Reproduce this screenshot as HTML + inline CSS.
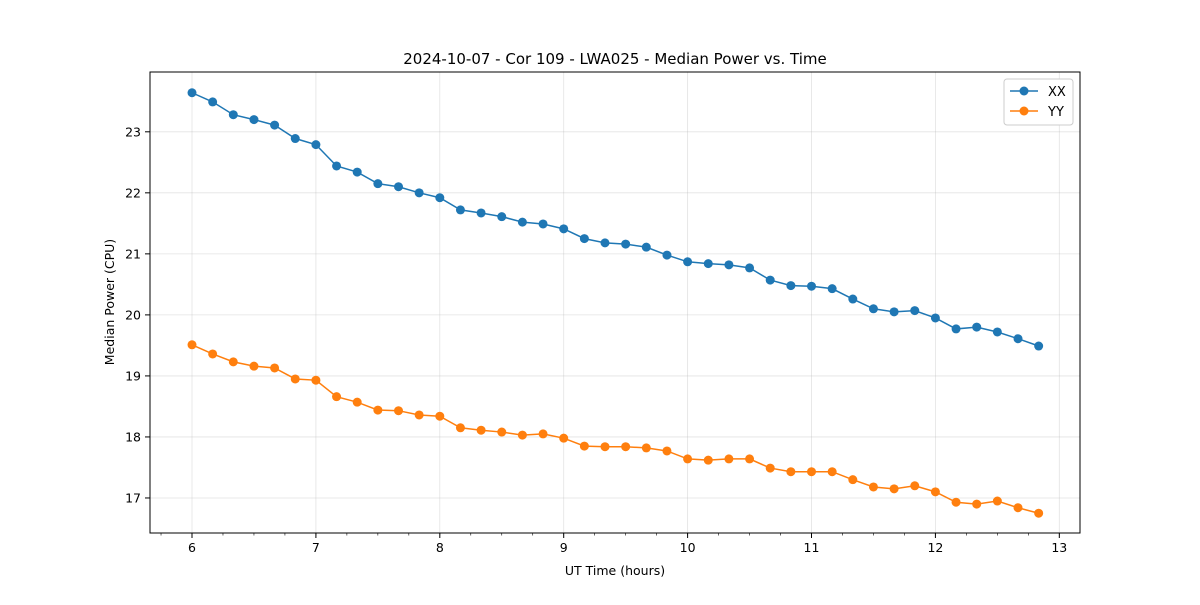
<!DOCTYPE html>
<html><head><meta charset="utf-8"><style>
body{margin:0;background:#fff;font-family:"Liberation Sans","DejaVu Sans",sans-serif;}
</style></head><body>
<svg id="chart" width="1200" height="600" font-family="DejaVu Sans, Liberation Sans, sans-serif">
<rect width="1200" height="600" fill="#fff"/>
<text x="615" y="64" text-anchor="middle" font-size="15">2024-10-07 - Cor 109 - LWA025 - Median Power vs. Time</text>
<g id="grid"></g><g id="axes"></g><g id="series"></g>
<text x="615" y="575" text-anchor="middle" font-size="12.5">UT Time (hours)</text>
<text transform="translate(114,302) rotate(-90)" text-anchor="middle" font-size="12.5">Median Power (CPU)</text>
<g>
<rect x="1004" y="79" width="69" height="46" fill="#fff" stroke="#ccc" rx="3"/>
<g><line x1="1010" y1="91" x2="1038" y2="91" stroke="#1f77b4" stroke-width="1.5"/><circle cx="1024" cy="91" r="4.5" fill="#1f77b4"/><text x="1048" y="96" font-size="13">XX</text></g>
<g><line x1="1010" y1="111" x2="1038" y2="111" stroke="#ff7f0e" stroke-width="1.5"/><circle cx="1024" cy="111" r="4.5" fill="#ff7f0e"/><text x="1048" y="116" font-size="13">YY</text></g>
</g>
</svg>
<script>
const xxValues=[23.64,23.49,23.28,23.20,23.11,22.89,22.79,22.44,22.34,22.15,22.10,22.00,21.92,21.72,21.67,21.61,21.52,21.49,21.41,21.25,21.18,21.16,21.11,20.98,20.87,20.84,20.82,20.77,20.57,20.48,20.47,20.43,20.26,20.10,20.05,20.07,19.95,19.77,19.80,19.72,19.61,19.49];
const yyValues=[19.51,19.36,19.23,19.16,19.13,18.95,18.93,18.66,18.57,18.44,18.43,18.36,18.34,18.15,18.11,18.08,18.03,18.05,17.98,17.85,17.84,17.84,17.82,17.77,17.64,17.62,17.64,17.64,17.49,17.43,17.43,17.43,17.30,17.18,17.15,17.20,17.10,16.93,16.90,16.95,16.84,16.75];
const times=xxValues.map((_,i)=>6+i/6);
const xTicks=[6,7,8,9,10,11,12,13];
const yTicks=[17,18,19,20,21,22,23];
const L=150,R=1080,T=72,B=533;
const xMin=5.661,xMax=13.167,yMin=16.426,yMax=23.98;
const sx=v=>L+(v-xMin)/(xMax-xMin)*(R-L);
const sy=v=>B-(v-yMin)/(yMax-yMin)*(B-T);
const NS="http://www.w3.org/2000/svg";
function mk(tag,attrs,parent,txt){const e=document.createElementNS(NS,tag);for(const k in attrs)e.setAttribute(k,attrs[k]);if(txt!==undefined)e.textContent=txt;document.getElementById(parent).appendChild(e);return e;}
xTicks.forEach(t=>{
 let g=mk('line',{x1:sx(t),x2:sx(t),y1:T,y2:B,stroke:'#b0b0b0','stroke-opacity':0.35,'stroke-width':0.8},'grid');
 
 
 mk('line',{x1:sx(t),x2:sx(t),y1:B,y2:B+5,stroke:'#000'},'axes');
 let l=mk('text',{x:sx(t),y:B+19,'text-anchor':'middle','font-size':12.5},'axes',t);
 
 
});
for(let m=5.75;m<13.2;m+=0.25){mk('line',{x1:sx(m),x2:sx(m),y1:B,y2:B+2.5,stroke:'#000','stroke-width':0.6},'axes');}
yTicks.forEach(t=>{
 let g=mk('line',{x1:L,x2:R,y1:sy(t),y2:sy(t),stroke:'#b0b0b0','stroke-opacity':0.35,'stroke-width':0.8},'grid');
 
 
 mk('line',{x1:L-5,x2:L,y1:sy(t),y2:sy(t),stroke:'#000'},'axes');
 let l=mk('text',{x:L-9,y:sy(t)+4.5,'text-anchor':'end','font-size':12.5},'axes',t);
 
 
});
let fr=mk('rect',{x:L,y:T,width:R-L,height:B-T,fill:'none',stroke:'#000','stroke-width':1},'axes');


function series(vals,color,name){
 let p=mk('polyline',{points:vals.map((v,i)=>sx(times[i])+','+sy(v)).join(' '),fill:'none',stroke:color,'stroke-width':1.5},'series');
 
 
 vals.forEach((v,i)=>{
  let c=mk('circle',{cx:sx(times[i]),cy:sy(v),r:4.5,fill:color},'series');
  
  
 });
}
series(xxValues,'#1f77b4','xx');
series(yyValues,'#ff7f0e','yy');
</script>
</body></html>
